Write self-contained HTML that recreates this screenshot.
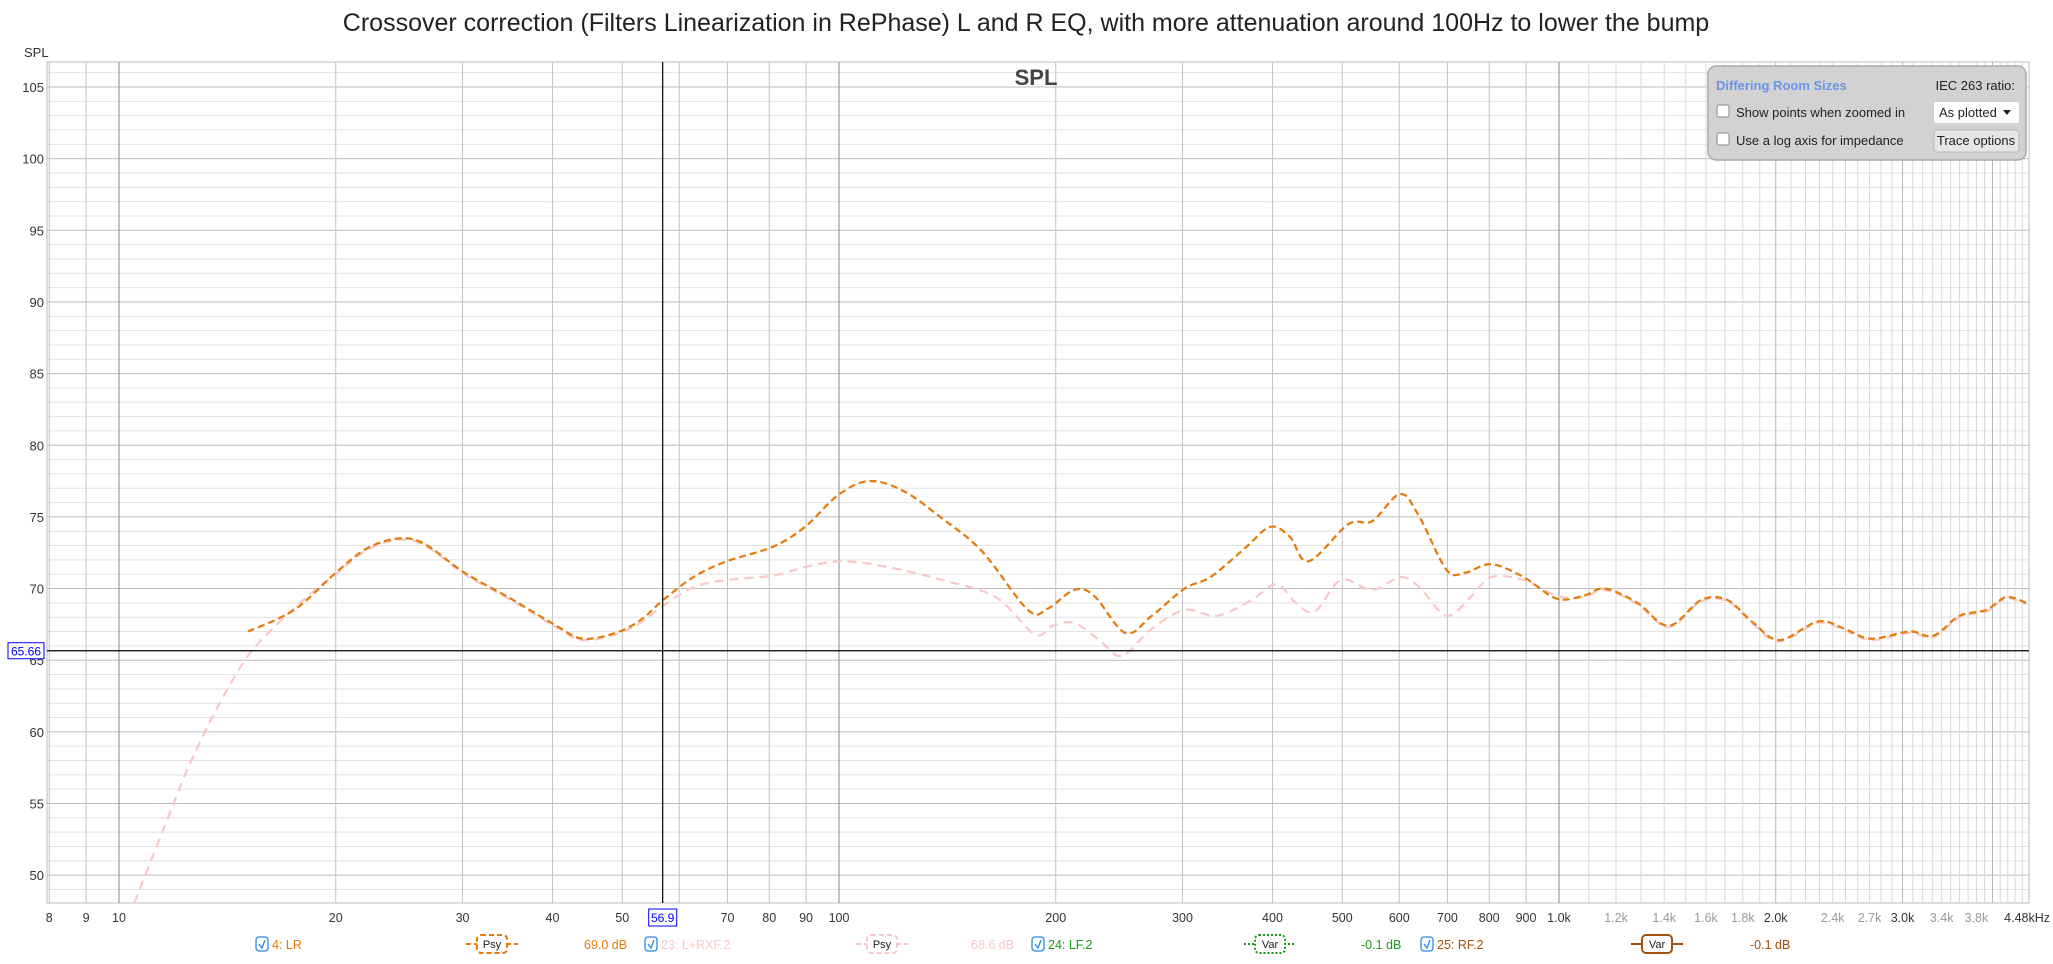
<!DOCTYPE html>
<html><head><meta charset="utf-8">
<style>
body{margin:0;background:#fff;width:2053px;height:959px;overflow:hidden;font-family:"Liberation Sans","DejaVu Sans",sans-serif;}
svg text{font-family:"Liberation Sans","DejaVu Sans",sans-serif;}
</style></head>
<body>
<svg id="chart" width="2053" height="959" xmlns="http://www.w3.org/2000/svg">
<text x="1026" y="31" text-anchor="middle" font-size="25" fill="#222">Crossover correction (Filters Linearization in RePhase) L and R EQ, with more attenuation around 100Hz to lower the bump</text>
<text x="24" y="57" font-size="13" fill="#333">SPL</text>
<g id="grid"></g>
<g id="ylabels"></g>
<g id="xlabels"></g>
<text x="1036" y="85" text-anchor="middle" font-size="22" font-weight="bold" fill="#444">SPL</text>
<g id="series"></g>
<g id="cursor"></g>
<g>
 <rect x="1708" y="66" width="318" height="94" rx="8" fill="#d2d2d2" stroke="#aaa" stroke-width="1.5"/>
 <text x="1716" y="90" font-size="13" font-weight="bold" fill="#6a96e8">Differing Room Sizes</text>
 <text x="2015" y="90" text-anchor="end" font-size="13" fill="#222">IEC 263 ratio:</text>
 <rect x="1717" y="105" width="12" height="12" rx="2" fill="#fff" stroke="#888"/>
 <text x="1736" y="117" font-size="13" fill="#222">Show points when zoomed in</text>
 <rect x="1717" y="133" width="12" height="12" rx="2" fill="#fff" stroke="#888"/>
 <text x="1736" y="145" font-size="13" fill="#222">Use a log axis for impedance</text>
 <rect x="1934" y="102" width="85" height="21" rx="2" fill="#fff"/>
 <text x="1939" y="117" font-size="13" fill="#222">As plotted</text>
 <path d="M2003 110 l8 0 l-4 5 z" fill="#222"/>
 <rect x="1934" y="130" width="85" height="22" rx="3" fill="#e6e6e6" stroke="#bbb"/>
 <text x="1976" y="145" text-anchor="middle" font-size="13" fill="#222">Trace options</text>
</g>
<g id="legend"></g>
</svg>
<script>
const orangeF=[15.1,17.5,20,22.1,24.5,26.6,30.2,35,40.5,44,48.9,53,57,62.8,69.8,80.8,89.7,99.6,110,123,139,158,183,195,212,226,250,272,302,328,366,397,423,449,510,550,602,640,698,741,805,893,992,1083,1158,1285,1420,1576,1713,1862,2025,2290,2490,2710,3070,3310,3600,3920,4180,4460];
const orangeDb=[67.0,68.5,71.1,72.8,73.5,73.1,71.1,69.3,67.4,66.5,66.9,67.8,69.2,70.8,71.9,72.9,74.3,76.5,77.5,76.8,74.9,72.6,68.5,68.6,69.9,69.5,66.9,68.1,70.0,70.8,72.8,74.3,73.6,71.9,74.5,74.7,76.6,75.0,71.3,71.1,71.7,70.8,69.3,69.5,70.0,69.0,67.4,69.2,69.2,67.6,66.4,67.7,67.2,66.5,67.0,66.7,68.1,68.5,69.4,69.0];
const pinkF=[10.5,11.8,12.6,13.8,15.1,16.5,18.5,20,22.1,24.5,26.6,30.2,35,40.5,44,48.9,53,57,62.8,69.8,80.8,91.5,101.7,117,139,165,187,198,212,230,247,272,302,335,374,405,431,458,498,550,602,640,698,757,805,893,992,1083,1158,1285,1420,1576,1713,1862,2025,2290,2490,2710,3070,3310,3600,3920,4180,4460];
const pinkDb=[48.0,54.5,58.0,62.0,65.3,67.4,69.7,71.0,72.7,73.4,73.0,71.0,69.2,67.3,66.4,66.8,67.6,68.8,70.1,70.6,70.9,71.6,71.9,71.5,70.6,69.4,66.8,67.4,67.6,66.4,65.3,67.2,68.5,68.1,69.2,70.3,69.0,68.4,70.6,69.9,70.8,70.1,68.1,69.5,70.8,70.6,69.5,69.4,69.9,68.9,67.3,69.1,69.1,67.5,66.3,67.6,67.1,66.4,66.9,66.6,68.0,68.4,69.3,68.9];
const yTicks=[50,55,60,65,70,75,80,85,90,95,100,105];
const xTickVals=[8,9,10,20,30,40,50,70,80,90,100,200,300,400,500,600,700,800,900,1000,1200,1400,1600,1800,2000,2400,2700,3000,3400,3800,4480];
const xTickText=["8","9","10","20","30","40","50","70","80","90","100","200","300","400","500","600","700","800","900","1.0k","1.2k","1.4k","1.6k","1.8k","2.0k","2.4k","2.7k","3.0k","3.4k","3.8k","4.48kHz"];
const xTickFaint=[1200,1400,1600,1800,2400,2700,3400,3800];
const legendNames=["4: LR","23: L+RXF.2","24: LF.2","25: RF.2"];
const legendVals=["69.0 dB","68.6 dB","-0.1 dB","-0.1 dB"];
const cursorF=56.9, cursorDb=65.66;

const NS="http://www.w3.org/2000/svg";
const L=47,R=2029,T=62,B=903;
function xOf(f){return 119+720*(Math.log10(f)-1);}
function yOf(d){return 87+(105-d)*14.33;}
function mk(tag,at,parent){const e=document.createElementNS(NS,tag);for(const k in at)e.setAttribute(k,at[k]);parent.appendChild(e);return e;}
const grid=document.getElementById('grid');
mk('rect',{x:L,y:T,width:R-L,height:B-T,fill:'#fff',stroke:'#bbb'},grid);
for(let d=48;d<=106;d++){const y=yOf(d);if(y<T||y>B)continue;
 const l=mk('line',{x1:L,x2:R,y1:y,y2:y,stroke:d%5==0?'#bdbdbd':'#e2e2e2','stroke-width':1},grid);
 
 }
const vf=[];
for(let m=8;m<=90;m+=(m<10?1:10))vf.push(m);
for(let m=100;m<=900;m+=100)vf.push(m);
for(let m=1000;m<=4400;m+=100)vf.push(m);
vf.forEach(f=>{const x=xOf(f);if(x>R)return;
 let c='#d8d8d8';
 if(f<1000)c='#c4c4c4';
 if(f>=1000&&f%1000==0)c='#b8b8b8';
 if(f==10||f==100||f==1000)c='#8a8a8a';
 const l=mk('line',{x1:x,x2:x,y1:T,y2:B,stroke:c,'stroke-width':1},grid);
 
 });
const yl=document.getElementById('ylabels');
yTicks.forEach(v=>{const t=mk('text',{x:44,y:yOf(v)+5,'text-anchor':'end','font-size':13,fill:'#333'},yl);t.textContent=v;
 
 });
const xl=document.getElementById('xlabels');
xTickVals.forEach((v,i)=>{const last=i==xTickVals.length-1;
 const t=mk('text',{x:last?2050:xOf(v),y:922,'text-anchor':last?'end':'middle','font-size':12.5,fill:xTickFaint.includes(v)?'#999':'#333'},xl);
 t.textContent=xTickText[i];
 
 });
function smooth(F,D){const p=F.map((f,i)=>[xOf(f),Math.min(B,yOf(D[i]))]);
 let s='M'+p[0][0].toFixed(1)+' '+p[0][1].toFixed(1);
 for(let i=0;i<p.length-1;i++){const p0=p[Math.max(0,i-1)],p1=p[i],p2=p[i+1],p3=p[Math.min(p.length-1,i+2)];
  const c1=[p1[0]+(p2[0]-p0[0])/6,p1[1]+(p2[1]-p0[1])/6],c2=[p2[0]-(p3[0]-p1[0])/6,p2[1]-(p3[1]-p1[1])/6];
  s+=' C'+c1.map(v=>v.toFixed(1)).join(' ')+' '+c2.map(v=>v.toFixed(1)).join(' ')+' '+p2.map(v=>v.toFixed(1)).join(' ');}
 return s;}
const sg=document.getElementById('series');
const pk=mk('path',{d:smooth(pinkF,pinkDb),fill:'none',stroke:'#f8c8c8','stroke-width':2.2,'stroke-dasharray':'9 6'},sg);


const og=mk('path',{d:smooth(orangeF,orangeDb),fill:'none',stroke:'#e57a0a','stroke-width':2.2,'stroke-dasharray':'7 4'},sg);


const cg=document.getElementById('cursor');
const cx=xOf(cursorF),cy=yOf(cursorDb);
mk('line',{x1:cx,x2:cx,y1:T,y2:B,stroke:'#000','stroke-width':1.2},cg);
mk('line',{x1:L,x2:R,y1:cy,y2:cy,stroke:'#000','stroke-width':1.2},cg);
mk('rect',{x:8,y:cy-8,width:36,height:16,fill:'#fff',stroke:'#00f'},cg);
let t=mk('text',{x:26,y:cy+5,'text-anchor':'middle','font-size':12,fill:'#00f'},cg);t.textContent=cursorDb.toFixed(2);


mk('rect',{x:cx-14,y:909,width:28,height:17,fill:'#fff',stroke:'#00f'},cg);
t=mk('text',{x:cx,y:922,'text-anchor':'middle','font-size':12,fill:'#00f'},cg);t.textContent=cursorF.toFixed(1);


const lg=document.getElementById('legend');
const lx=[262,651,1038,1427],sx=[492,882,1270,1657],vx=[584,971,1361,1750];
const cols=['#e57a0a','#f8c8c8','#1a9a1a','#a0500a'];
const sym=['Psy','Psy','Var','Var'];
const dash=['5 3','5 3','2 2',''];
const y0=944;
legendNames.forEach((n,i)=>{
 const cb=mk('rect',{x:lx[i]-6,y:y0-7,width:12,height:14,rx:3,fill:'#fff',stroke:'#2a8ae8','stroke-width':1.3},lg);
 
 
 mk('path',{d:`M${lx[i]-3} ${y0} l3 4 l3 -8`,fill:'none',stroke:'#2a8ae8','stroke-width':1.3},lg);
 let e=mk('text',{x:lx[i]+10,y:y0+5,'font-size':12.5,fill:cols[i]},lg);e.textContent=n;
 
 
 mk('line',{x1:sx[i]-26,x2:sx[i]+26,y1:y0,y2:y0,stroke:cols[i],'stroke-width':2,'stroke-dasharray':dash[i]},lg);
 const b=mk('rect',{x:sx[i]-15,y:y0-9,width:30,height:18,rx:4,fill:'#fff',stroke:cols[i],'stroke-width':2,'stroke-dasharray':dash[i]},lg);
 
 
 e=mk('text',{x:sx[i],y:y0+4,'text-anchor':'middle','font-size':11,fill:'#222'},lg);e.textContent=sym[i];
 e=mk('text',{x:vx[i],y:y0+5,'font-size':12.5,fill:cols[i]},lg);e.textContent=legendVals[i];
 
 
});
</script>
</body></html>
